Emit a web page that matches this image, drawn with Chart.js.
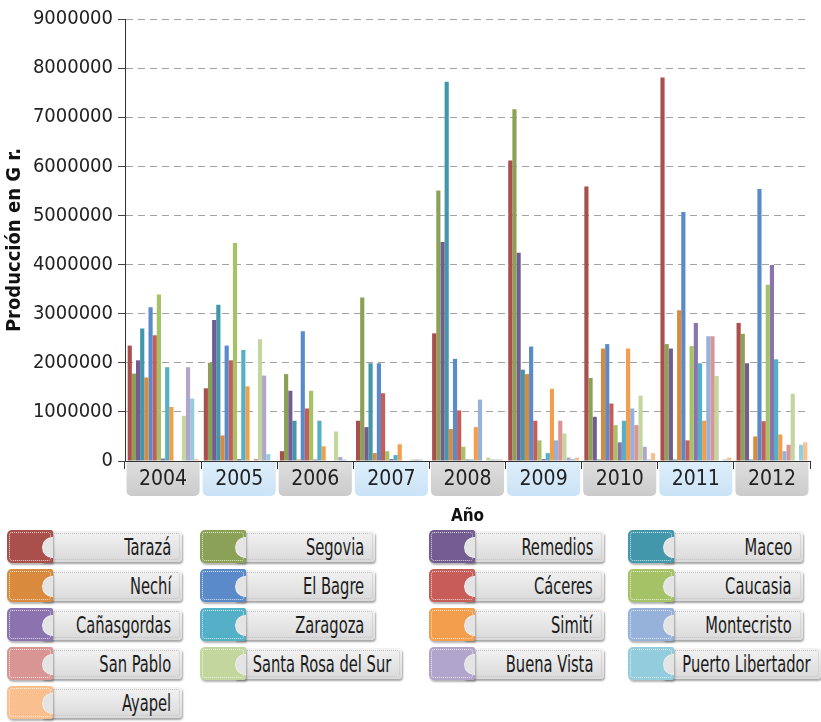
<!DOCTYPE html>
<html>
<head>
<meta charset="utf-8">
<script src="https://cdn.jsdelivr.net/npm/chart.js@4.4.1/dist/chart.umd.min.js"></script>
<style>
	body { margin: 0; background: #fff; width: 821px; height: 722px; position: relative; overflow: hidden; }
	#wrap { position: absolute; left: 0; top: 0; width: 821px; height: 528px; }
	.item { position: absolute; height: 33px; font-family: 'DejaVu Sans Condensed', 'DejaVu Sans', sans-serif; }
	.lab {
		position: absolute; left: 34px; right: 0; top: 1px; height: 31px;
		background: linear-gradient(#f3f3f3, #d9d9d9);
		border-radius: 4px;
		box-shadow: 1px 2px 2px rgba(0, 0, 0, .35);
	}
	.lab::before {
		content: ''; position: absolute; left: 2px; right: 2px; top: 2px; bottom: 2px;
		border: 1px dotted #c2c2c2; border-radius: 3px;
	}
	.txt {
		position: absolute; right: 11px; top: 0;
		font-size: 23px; line-height: 32px; color: #1b1b1b; white-space: nowrap;
		transform: scaleX(0.71); transform-origin: right center;
	}
	.sw {
		position: absolute; left: 0; top: 0; width: 46px; height: 33px;
		border-radius: 5px 2px 2px 5px;
		box-shadow: 1px 2px 2px rgba(0, 0, 0, .3);
		overflow: hidden;
	}
	.sw::before {
		content: ''; position: absolute; left: 2px; right: 2px; top: 2px; bottom: 2px;
		border: 1px dotted rgba(255, 255, 255, .75); border-radius: 3px;
	}
	.sw::after {
		content: ''; position: absolute; right: -10px; top: 7px; width: 19px; height: 19px;
		border-radius: 50%; background: #e4e4e4;
		border: 1px dotted rgba(255, 255, 255, .9);
	}
</style>
</head>
<body>
<div id="wrap"><canvas id="prodChart" width="821" height="528"></canvas></div>
<div id="legend"></div>
<script>
// years on the x axis
const years = ['2004', '2005', '2006', '2007', '2008', '2009', '2010', '2011', '2012'];

// production per municipality (gr), one value per year
const taraza = [2350000, 1480000, 200000, 820000, 2600000, 6120000, 5590000, 7810000, 2810000];
const segovia = [1780000, 2000000, 1770000, 3330000, 5510000, 7160000, 1690000, 2380000, 2590000];
const remedios = [2050000, 2870000, 1430000, 690000, 4460000, 4240000, 900000, 2290000, 1990000];
const maceo = [2700000, 3180000, 820000, 1990000, 7720000, 1860000, 30000, 30000, 30000];
const nechi = [1700000, 520000, 30000, 160000, 650000, 1770000, 2290000, 3070000, 500000];
const elBagre = [3130000, 2350000, 2640000, 1990000, 2080000, 2330000, 2380000, 5070000, 5540000];
const caceres = [2560000, 2050000, 1070000, 1380000, 1030000, 820000, 1170000, 420000, 810000];
const caucasia = [3390000, 4440000, 1430000, 200000, 290000, 420000, 730000, 2340000, 3590000];
const canasgordas = [50000, 40000, 30000, 40000, 30000, 40000, 380000, 2810000, 3990000];
const zaragoza = [1910000, 2260000, 820000, 120000, 30000, 160000, 820000, 1990000, 2070000];
const simiti = [1100000, 1520000, 300000, 340000, 690000, 1470000, 2290000, 820000, 540000];
const montecristo = [0, 0, 0, 0, 1250000, 420000, 1070000, 2540000, 200000];
const sanPablo = [0, 40000, 0, 0, 0, 820000, 730000, 2540000, 330000];
const santaRosa = [920000, 2480000, 600000, 30000, 70000, 560000, 1330000, 1730000, 1370000];
const buenaVista = [1910000, 1740000, 80000, 30000, 30000, 70000, 290000, 0, 0];
const puertoLibertador = [1270000, 140000, 30000, 30000, 30000, 40000, 30000, 30000, 330000];
const ayapel = [40000, 0, 0, 0, 30000, 70000, 160000, 70000, 380000];

// y axis ticks
const yMax = 9000000;
const yStep = 1000000;

const FONT = "'DejaVu Sans Condensed', 'DejaVu Sans', sans-serif";

const series = [
	['Tarazá', taraza, '#A94F4C'],
	['Segovia', segovia, '#8AA157'],
	['Remedios', remedios, '#735C8F'],
	['Maceo', maceo, '#4397AA'],
	['Nechí', nechi, '#D98A3D'],
	['El Bagre', elBagre, '#5B8ACA'],
	['Cáceres', caceres, '#C85C58'],
	['Caucasia', caucasia, '#A5C266'],
	['Cañasgordas', canasgordas, '#8A73AE'],
	['Zaragoza', zaragoza, '#53B0C7'],
	['Simití', simiti, '#F39E4C'],
	['Montecristo', montecristo, '#97B2DA'],
	['San Pablo', sanPablo, '#D99594'],
	['Santa Rosa del Sur', santaRosa, '#C3D69E'],
	['Buena Vista', buenaVista, '#B1A5CB'],
	['Puerto Libertador', puertoLibertador, '#93CDDD'],
	['Ayapel', ayapel, '#F9BF8F']
];

// grey / blue boxes behind the year labels
const yearBoxes = {
	id: 'yearBoxes',
	beforeDraw(chart) {
		const {ctx, chartArea, scales: {x}} = chart;
		const half = (x.getPixelForTick(1) - x.getPixelForTick(0)) / 2;
		const top = chartArea.bottom + 1;
		const bot = chartArea.bottom + 35;
		ctx.save();
		x.ticks.forEach((t, i) => {
			const c = x.getPixelForTick(i);
			const g = ctx.createLinearGradient(0, top, 0, bot);
			if (i % 2 === 0) {
				g.addColorStop(0, '#dedede');
				g.addColorStop(1, '#cbcbcb');
			} else {
				g.addColorStop(0, '#ddeefb');
				g.addColorStop(1, '#cbe3f6');
			}
			ctx.fillStyle = g;
			ctx.beginPath();
			ctx.roundRect(c - half + 1.5, top, half * 2 - 3, bot - top, [0, 0, 5, 5]);
			ctx.fill();
		});
		ctx.restore();
	}
};

const prodChart = new Chart(document.getElementById('prodChart'), {
	type: 'bar',
	data: {
		labels: years,
		datasets: series.map(s => ({
			label: s[0],
			data: s[1],
			backgroundColor: s[2],
			borderWidth: 0
		}))
	},
	options: {
		responsive: false,
		animation: false,
		layout: {padding: {top: 19, right: 11, left: 0, bottom: 0}},
		datasets: {bar: {categoryPercentage: 0.93, barPercentage: 1}},
		plugins: {
			legend: {display: false},
			tooltip: {enabled: false}
		},
		scales: {
			x: {
				afterFit: s => { s.height = 67; },
				grid: {offset: true, drawOnChartArea: false, tickLength: 8, color: '#333'},
				border: {color: '#333', width: 1},
				ticks: {padding: 0, color: '#222', font: {family: FONT, size: 21, lineHeight: 1}},
				title: {
					display: true, text: 'Año', color: '#111',
					font: {family: FONT, size: 17, weight: 'bold'},
					padding: {top: 0, bottom: 1}
				}
			},
			y: {
				min: 0,
				max: yMax,
				afterFit: s => { s.width = 125; },
				ticks: {
					stepSize: yStep, padding: 5, color: '#222',
					font: {family: FONT, size: 20},
					callback: v => String(v)
				},
				grid: {color: '#a3a3a3', tickColor: '#444', tickLength: 7, tickBorderDash: []},
				border: {color: '#333', width: 1, dash: [7, 5]},
				title: {
					display: true, text: 'Producción en G r.', color: '#111',
					font: {family: FONT, size: 20, weight: 'bold'},
					padding: {top: 3, bottom: 0}
				}
			}
		}
	},
	plugins: [yearBoxes]
});

// html legend built from the chart's datasets
const colLeft = [7, 200, 429, 628];
const legend = document.getElementById('legend');
prodChart.data.datasets.forEach((ds, i) => {
	const item = document.createElement('div');
	item.className = 'item';
	item.style.left = colLeft[i % 4] + 'px';
	item.style.top = (530 + Math.floor(i / 4) * 39) + 'px';
	const lab = document.createElement('div');
	lab.className = 'lab';
	const txt = document.createElement('span');
	txt.className = 'txt';
	txt.textContent = ds.label;
	lab.appendChild(txt);
	const sw = document.createElement('div');
	sw.className = 'sw';
	sw.style.background = ds.backgroundColor;
	item.appendChild(lab);
	item.appendChild(sw);
	legend.appendChild(item);
	// longer names get a wider tab
	const w = Math.max(175, Math.round(txt.offsetWidth * 0.71) + 64);
	item.style.width = w + 'px';
});
</script>
</body>
</html>
